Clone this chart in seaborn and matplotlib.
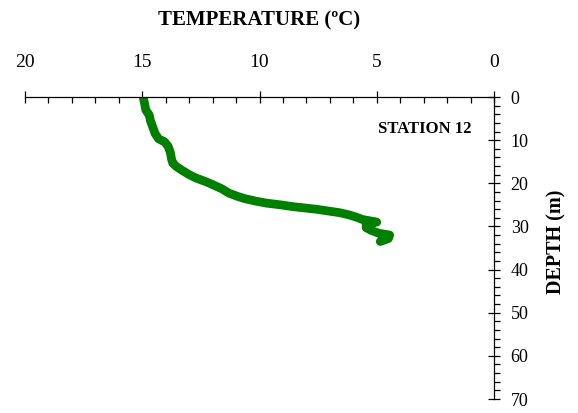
import matplotlib
matplotlib.use("Agg")
import matplotlib.pyplot as plt
import seaborn as sns
import pandas as pd
from matplotlib.ticker import MultipleLocator

# Temperature profile, station 12
temperature = [14.95, 14.9, 14.85, 14.7, 14.65, 14.55, 14.45, 14.3, 14.05, 13.9,
               13.8, 13.75, 13.7, 13.55, 13.3, 13.0, 12.7, 12.3, 12.0, 11.6,
               11.3, 10.9, 10.6, 10.1, 9.7, 9.1, 8.6, 8.1, 7.6, 7.1,
               6.6, 6.2, 5.9, 5.6, 5.0, 5.45, 5.45, 5.2, 4.9, 4.45,
               4.5, 4.85]
depth = [0.3, 1.5, 3.0, 4.2, 5.5, 7.0, 8.5, 9.7, 10.4, 11.4,
         12.9, 14.4, 15.3, 16.1, 17.0, 18.0, 18.8, 19.6, 20.3, 21.3,
         22.3, 23.1, 23.6, 24.2, 24.6, 25.0, 25.4, 25.7, 26.0, 26.4,
         26.8, 27.3, 27.8, 28.4, 29.0, 29.3, 30.3, 31.0, 31.6, 32.0,
         32.8, 33.5]

x_ticks = [20, 15, 10, 5, 0]
y_ticks = [0, 10, 20, 30, 40, 50, 60, 70]

df = pd.DataFrame({"temperature": temperature, "depth": depth})

sns.set_theme(style="white")
plt.rcParams["font.family"] = ["Liberation Serif", "DejaVu Serif"]

fig = plt.figure(figsize=(5.78, 4.13), dpi=100)
ax = fig.add_axes([25 / 578, 1 - 399 / 413, (494 - 25) / 578, (399 - 97) / 413])

sns.lineplot(data=df, x="temperature", y="depth", sort=False, estimator=None,
             color="#008000", linewidth=6.3, ax=ax)
ax.lines[0].set_solid_joinstyle("round")

ax.set_xlim(20, 0)
ax.set_ylim(70, 0)
ax.set_xticks(x_ticks)
ax.set_yticks(y_ticks)
ax.xaxis.set_minor_locator(MultipleLocator(1))
ax.yaxis.set_minor_locator(MultipleLocator(2))
ax.xaxis.tick_top()
ax.yaxis.tick_right()
ax.set_xlabel("")
ax.set_ylabel("")

for side in ["left", "bottom"]:
    ax.spines[side].set_visible(False)
for side in ["top", "right"]:
    ax.spines[side].set_visible(True)
    ax.spines[side].set_color("black")
    ax.spines[side].set_linewidth(0.9)

ax.tick_params(axis="x", which="major", direction="inout", length=8, width=0.9,
               colors="black", labelsize=14, pad=15, top=True, bottom=False)
ax.tick_params(axis="x", which="minor", direction="in", length=4, width=0.9,
               colors="black", top=True, bottom=False)
ax.tick_params(axis="y", which="major", direction="inout", length=8, width=0.9,
               colors="black", labelsize=13, pad=8, right=True, left=False)
ax.tick_params(axis="y", which="minor", direction="out", length=4, width=0.9,
               colors="black", right=True, left=False)
ax.grid(False)
ax.set_facecolor("white")

ax.text(0.95, 7.4, "STATION 12", ha="right", va="center", fontsize=12,
        fontweight="bold", color="black")

fig.text((25 + 494) / 2 / 578, 1 - 20 / 413, "TEMPERATURE (ºC)", ha="center",
         va="center", fontsize=15, fontweight="bold", color="black")
fig.text(556 / 578, 1 - 242 / 413, "DEPTH (m)", ha="center", va="center",
         rotation=90, fontsize=14.5, fontweight="bold", color="black")

fig.savefig("out.png", dpi=100, facecolor="white")
